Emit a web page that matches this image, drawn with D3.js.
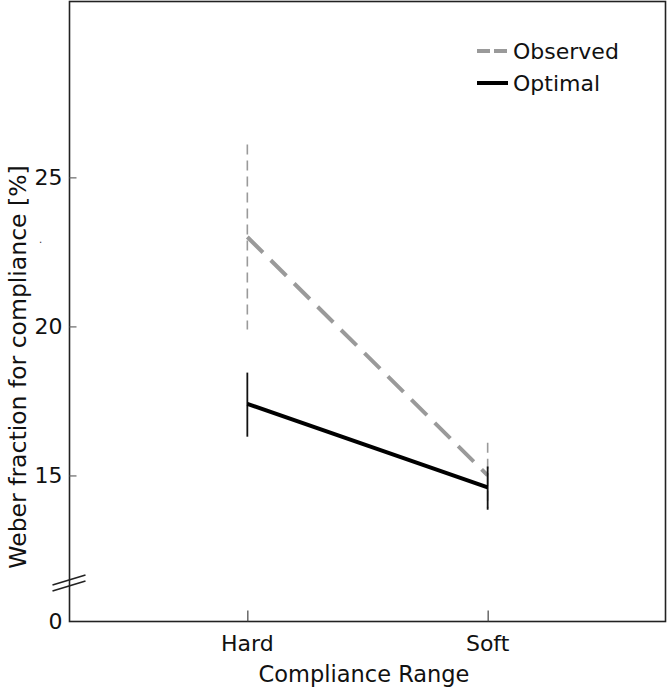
<!DOCTYPE html>
<html><head><meta charset="utf-8">
<script src="https://cdn.jsdelivr.net/npm/d3@7/dist/d3.min.js"></script>
<style>body{margin:0;background:#fff}svg{display:block}text{font-family:"DejaVu Sans",Verdana,sans-serif}</style>
</head><body><svg id="c" width="667" height="689"></svg>
<script>
const categories = ["Hard", "Soft"];
const observedMean = [23.0, 15.0];
const observedLow = [19.9, 13.9];
const observedHigh = [26.1, 16.1];
const optimalMean = [17.4, 14.6];
const optimalLow = [16.3, 13.85];
const optimalHigh = [18.45, 15.3];
const yTicks = [15, 20, 25];
const yDomain = [10.1, 30.9];
const seriesNames = ["Observed", "Optimal"];

const svg = d3.select("#c");
const L = 69.5, R = 665.5, T = 1.5, B = 621.5;
const x = d3.scalePoint().domain(categories).range([L, R]).padding(0.74);
const y = d3.scaleLinear().domain(yDomain).range([B, T]);

// frame
svg.append("rect").attr("x", L).attr("y", T).attr("width", R - L).attr("height", B - T)
  .attr("fill", "none").attr("stroke", "#222").attr("stroke-width", 1.6);

// y ticks (inward)
const yAxis = d3.axisRight(y).tickValues(yTicks).tickSize(7).tickFormat("");
const gy = svg.append("g").attr("transform", `translate(${L},0)`).call(yAxis);
gy.select(".domain").remove();
gy.selectAll("line").attr("stroke", "#666").attr("stroke-width", 1.2);
svg.selectAll(".ylab").data(yTicks.concat([yDomain[0]])).enter().append("text")
  .attr("x", L - 7).attr("y", d => y(d)).attr("dy", "0.36em").attr("text-anchor", "end")
  .attr("font-size", 22).attr("fill", "#111").text(d => d === yDomain[0] ? "0" : d);

// x ticks (inward)
const xAxis = d3.axisTop(x).tickSize(11).tickFormat("");
const gx = svg.append("g").attr("transform", `translate(0,${B})`).call(xAxis);
gx.select(".domain").remove();
gx.selectAll("line").attr("stroke", "#444").attr("stroke-width", 1.2);
svg.selectAll(".xlab").data(categories).enter().append("text")
  .attr("x", d => x(d)).attr("y", B + 29).attr("text-anchor", "middle")
  .attr("font-size", 22).attr("fill", "#111").text(d => d);

// axis titles
svg.append("text").attr("x", 364).attr("y", 682).attr("text-anchor", "middle")
  .attr("font-size", 22.5).attr("fill", "#111").text("Compliance Range");
svg.append("text").attr("transform", `translate(26,367) rotate(-90)`)
  .attr("text-anchor", "middle").attr("font-size", 23.5).attr("fill", "#111")
  .text("Weber fraction for compliance [%]");
svg.append("text").attr("x", 39).attr("y", 243).attr("font-size", 10).attr("fill", "#333").text(".");

// axis break marks
const br = svg.append("g").attr("stroke", "#222").attr("stroke-width", 1.6);
br.append("line").attr("x1", L - 17).attr("y1", 591).attr("x2", L + 16).attr("y2", 581);
br.append("line").attr("x1", L - 17).attr("y1", 585).attr("x2", L + 16).attr("y2", 575);

// observed error bars (thin dashed grey)
const grey = "#9a9a9a";
svg.selectAll(".oerr").data(categories).enter().append("line")
  .attr("x1", d => x(d)).attr("x2", d => x(d))
  .attr("y1", (d, i) => y(observedHigh[i])).attr("y2", (d, i) => y(observedLow[i]))
  .attr("stroke", grey).attr("stroke-width", 1.6).attr("stroke-dasharray", "10,6");

// observed line
const line = d3.line().x(d => x(d[0])).y(d => y(d[1]));
svg.append("path").datum(categories.map((c, i) => [c, observedMean[i]])).attr("d", line)
  .attr("fill", "none").attr("stroke", grey).attr("stroke-width", 4).attr("stroke-dasharray", "22,11");

// optimal error bars
svg.selectAll(".perr").data(categories).enter().append("line")
  .attr("x1", d => x(d)).attr("x2", d => x(d))
  .attr("y1", (d, i) => y(optimalHigh[i])).attr("y2", (d, i) => y(optimalLow[i]))
  .attr("stroke", "#111").attr("stroke-width", 1.8);

// optimal line
svg.append("path").datum(categories.map((c, i) => [c, optimalMean[i]])).attr("d", line)
  .attr("fill", "none").attr("stroke", "#000").attr("stroke-width", 4);

// legend
const lg = svg.append("g");
seriesNames.forEach((s, i) => {
  const yy = 51 + i * 32;
  lg.append("line").attr("x1", 477).attr("x2", 508).attr("y1", yy).attr("y2", yy)
    .attr("stroke", i === 0 ? grey : "#000").attr("stroke-width", 4)
    .attr("stroke-dasharray", i === 0 ? "13,4" : null);
  lg.append("text").attr("x", 513).attr("y", yy).attr("dy", "0.36em")
    .attr("font-size", 22).attr("fill", "#111").text(s);
});
</script></body></html>
